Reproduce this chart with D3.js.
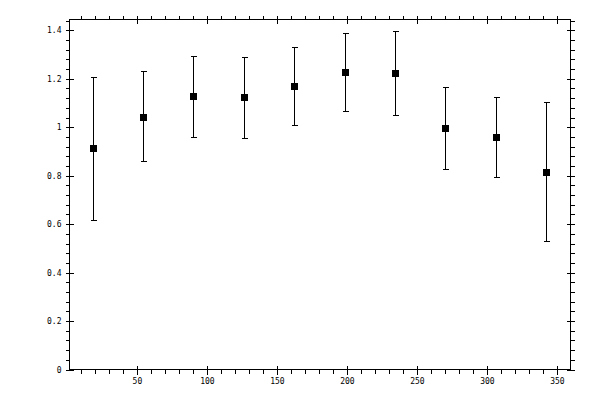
<!DOCTYPE html>
<html>
<head>
<script src="https://d3js.org/d3.v7.min.js"></script>
<style>
  body { margin: 0; background: #fff; }
  text { font-family: "DejaVu Sans Mono", monospace; font-size: 8px; fill: #000; }
</style>
</head>
<body>
<script>

var w = 600, h = 400;

var xVals  = [18, 54, 90, 126, 162, 198, 234, 270, 306, 342];
var yVals  = [0.913, 1.043, 1.127, 1.123, 1.169, 1.227, 1.222, 0.995, 0.958, 0.814];
var yLow   = [0.616, 0.859, 0.958, 0.954, 1.008, 1.067, 1.049, 0.826, 0.794, 0.530];
var yHigh  = [1.206, 1.233, 1.296, 1.291, 1.333, 1.390, 1.398, 1.167, 1.126, 1.103];

var xMajor = [50, 100, 150, 200, 250, 300, 350];
var yMajor = [0, 0.2, 0.4, 0.6, 0.8, 1, 1.2, 1.4];

// plot frame (note: "top" is a reserved window prop, so use other names)
var fL = 69.5, fR = 570.5, fT = 19.5, fB = 369.5;

var x = d3.scaleLinear().domain([1.5, 359.36]).range([fL, fR]);
var y = d3.scaleLinear().domain([0, 1.4447]).range([fB, fT]);

var svg = d3.select("body").append("svg").attr("width", w).attr("height", h);

var g = svg.append("g").attr("shape-rendering", "crispEdges")
  .attr("stroke", "#000").attr("stroke-width", 1);

// minor ticks every 10 on x, 0.04 on y
var xMinor = d3.range(10, 360, 10).filter(function(d){ return d % 50 !== 0; });
var yMinor = d3.range(0, 37).map(function(i){ return i * 0.04; })
  .filter(function(d){ return Math.abs(d / 0.2 - Math.round(d / 0.2)) > 1e-6; });

function px(v){ return Math.round(x(v)) + 0.5; }
function py(v){ return Math.round(y(v)) + 0.5; }

// frame
g.append("rect").attr("x", fL).attr("y", fT)
  .attr("width", fR - fL).attr("height", fB - fT).attr("fill", "none");

// bottom + top minor (outward)
g.selectAll(".xminb").data(xMinor).enter().append("line")
  .attr("x1", px).attr("x2", px)
  .attr("y1", fB).attr("y2", fB + 4);
g.selectAll(".xmint").data(xMinor).enter().append("line")
  .attr("x1", px).attr("x2", px)
  .attr("y1", fT).attr("y2", fT - 4);
// x major (crossing)
g.selectAll(".xmajb").data(xMajor).enter().append("line")
  .attr("x1", px).attr("x2", px)
  .attr("y1", fB - 4).attr("y2", fB + 5);
g.selectAll(".xmajt").data(xMajor).enter().append("line")
  .attr("x1", px).attr("x2", px)
  .attr("y1", fT - 4).attr("y2", fT + 4);

// y minor (outward)
g.selectAll(".yminl").data(yMinor).enter().append("line")
  .attr("y1", py).attr("y2", py)
  .attr("x1", fL).attr("x2", fL - 4);
g.selectAll(".yminr").data(yMinor).enter().append("line")
  .attr("y1", py).attr("y2", py)
  .attr("x1", fR).attr("x2", fR + 4);
// y major (crossing)
g.selectAll(".ymajl").data(yMajor).enter().append("line")
  .attr("y1", py).attr("y2", py)
  .attr("x1", fL - 4).attr("x2", fL + 4);
g.selectAll(".ymajr").data(yMajor).enter().append("line")
  .attr("y1", py).attr("y2", py)
  .attr("x1", fR - 4).attr("x2", fR + 4);

// tick labels
svg.selectAll(".xlab").data(xMajor).enter().append("text")
  .attr("x", function(d){ return x(d); })
  .attr("y", fB + 14)
  .attr("text-anchor", "middle")
  .text(function(d){ return d; });
svg.selectAll(".ylab").data(yMajor).enter().append("text")
  .attr("x", fL - 8)
  .attr("y", function(d){ return y(d) + 3; })
  .attr("text-anchor", "end")
  .text(function(d){ return d3.format("~g")(d); });

// error bars
var pts = xVals.map(function(d, i){
  return {x: d, y: yVals[i], lo: yLow[i], hi: yHigh[i]};
});
var eb = g.selectAll(".eb").data(pts).enter().append("g");
eb.append("line")
  .attr("x1", function(d){ return px(d.x); })
  .attr("x2", function(d){ return px(d.x); })
  .attr("y1", function(d){ return py(d.lo); })
  .attr("y2", function(d){ return py(d.hi); });
eb.append("line")
  .attr("x1", function(d){ return px(d.x) - 2.5; })
  .attr("x2", function(d){ return px(d.x) + 3.5; })
  .attr("y1", function(d){ return py(d.hi); })
  .attr("y2", function(d){ return py(d.hi); });
eb.append("line")
  .attr("x1", function(d){ return px(d.x) - 2.5; })
  .attr("x2", function(d){ return px(d.x) + 3.5; })
  .attr("y1", function(d){ return py(d.lo); })
  .attr("y2", function(d){ return py(d.lo); });

// square markers
svg.selectAll(".pt").data(pts).enter().append("rect")
  .attr("shape-rendering", "crispEdges")
  .attr("x", function(d){ return Math.round(x(d.x)) - 3; })
  .attr("y", function(d){ return Math.round(y(d.y)) - 3; })
  .attr("width", 7).attr("height", 7)
  .attr("fill", "#000");

</script>
</body>
</html>
